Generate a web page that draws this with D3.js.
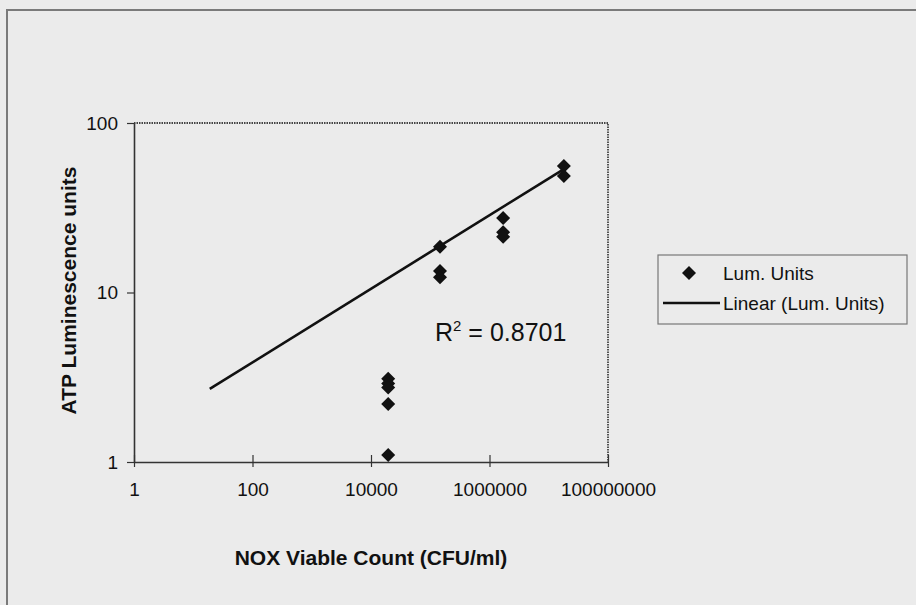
<!DOCTYPE html>
<html>
<head>
<meta charset="utf-8">
<script src="https://cdn.jsdelivr.net/npm/d3@7"></script>
<style>
  html, body { margin: 0; padding: 0; background: #ebebeb; }
  svg { display: block; }
  text { font-family: "Liberation Sans", Arial, Helvetica, sans-serif; fill: #111; }
</style>
</head>
<body>
<script>
// ---- data ----
const viableCount = [19500, 19500, 19500, 19500, 19500,
                     146000, 146000, 146000,
                     1700000, 1700000, 1700000,
                     18000000, 18000000];
const lumUnits    = [3.1, 2.9, 2.75, 2.2, 1.1,
                     18.6, 13.4, 12.3,
                     27.5, 22.7, 21.3,
                     55.7, 48.7];
const trendX = [19, 18000000];
const trendY = [2.7, 53.5];
const xTicks = [1, 100, 10000, 1000000, 100000000];
const yTicks = [1, 10, 100];
const rSquared = "0.8701";
const seriesName = "Lum. Units";
const trendName = "Linear (Lum. Units)";
const xTitle = "NOX Viable Count (CFU/ml)";
const yTitle = "ATP Luminescence units";

const W = 916, H = 605;
const plot = { left: 134, top: 123, right: 608, bottom: 462 };

const svg = d3.select("body").append("svg").attr("width", W).attr("height", H);
svg.append("rect").attr("width", W).attr("height", H).attr("fill", "#ebebeb");

// outer chart border
svg.append("rect").attr("x", 7).attr("y", 10).attr("width", 930).attr("height", 620)
  .attr("fill", "none").attr("stroke", "#7a7a7a").attr("stroke-width", 2);

const x = d3.scaleLog().domain([1, 1e8]).range([plot.left, plot.right]);
const y = d3.scaleLog().domain([1, 100]).range([plot.bottom, plot.top]);

// plot area border (top/right dotted)
svg.append("path")
  .attr("d", `M${plot.left},${plot.top}H${plot.right}V${plot.bottom}`)
  .attr("fill", "none").attr("stroke", "#444").attr("stroke-width", 1.8)
  .attr("stroke-dasharray", "1.5,1");

const tickFont = "19px";

// x axis
const gx = svg.append("g").attr("transform", `translate(0,${plot.bottom})`)
  .call(d3.axisBottom(x).tickValues(xTicks).tickFormat(d3.format("d")).tickSize(5).tickSizeOuter(0));
gx.select(".domain").attr("stroke", "#333").attr("stroke-width", 1.6);
gx.selectAll(".tick line").attr("y1", -7).attr("y2", 5).attr("stroke", "#333").attr("stroke-width", 1.2);
gx.selectAll(".tick text").attr("y", 21).style("font-size", tickFont)
  .style("font-family", "'Liberation Sans', Arial, sans-serif").attr("fill", "#111");

// y axis
const gy = svg.append("g").attr("transform", `translate(${plot.left},0)`)
  .call(d3.axisLeft(y).tickValues(yTicks).tickFormat(d3.format("d")).tickSize(7).tickSizeOuter(0));
gy.select(".domain").attr("stroke", "#333").attr("stroke-width", 1.6);
gy.selectAll(".tick line").attr("stroke", "#333").attr("stroke-width", 1.2);
gy.selectAll(".tick text").attr("x", -16).style("font-size", tickFont)
  .style("font-family", "'Liberation Sans', Arial, sans-serif").attr("fill", "#111");

// trend line
svg.append("path")
  .datum(trendX.map((v, i) => [v, trendY[i]]))
  .attr("d", d3.line().x(d => x(d[0])).y(d => y(d[1])))
  .attr("fill", "none").attr("stroke", "#111").attr("stroke-width", 2.6);

// square diamond marker
const squareDiamond = {
  draw(ctx, size) {
    const r = Math.sqrt(size / 2);
    ctx.moveTo(0, -r); ctx.lineTo(r, 0); ctx.lineTo(0, r); ctx.lineTo(-r, 0); ctx.closePath();
  }
};
const diamond = d3.symbol().type(squareDiamond).size(98);
svg.append("g").selectAll("path")
  .data(viableCount.map((v, i) => [v, lumUnits[i]]))
  .join("path")
  .attr("transform", d => `translate(${x(d[0])},${y(d[1])})`)
  .attr("d", diamond).attr("fill", "#111");

// R^2 label
const r2 = svg.append("text").attr("x", 435).attr("y", 341).style("font-size", "25px");
r2.append("tspan").text("R");
r2.append("tspan").attr("dy", -10).style("font-size", "15px").text("2");
r2.append("tspan").attr("dy", 10).text(" = " + rSquared);

// axis titles
svg.append("text").attr("x", (plot.left + plot.right) / 2).attr("y", 565)
  .attr("text-anchor", "middle").style("font-size", "21px").style("font-weight", "bold")
  .text(xTitle);
svg.append("text").attr("transform", `translate(76,${(plot.top + plot.bottom) / 2 - 2}) rotate(-90)`)
  .attr("text-anchor", "middle").style("font-size", "21px").style("font-weight", "bold")
  .text(yTitle);

// legend
const lg = svg.append("g");
lg.append("rect").attr("x", 658).attr("y", 255).attr("width", 249).attr("height", 69)
  .attr("fill", "#ebebeb").attr("stroke", "#777").attr("stroke-width", 1.2);
lg.append("path").attr("transform", "translate(689,273)").attr("d", diamond).attr("fill", "#111");
lg.append("text").attr("x", 723).attr("y", 280).style("font-size", "19px").text(seriesName);
lg.append("line").attr("x1", 663).attr("x2", 720).attr("y1", 303).attr("y2", 303)
  .attr("stroke", "#111").attr("stroke-width", 2.6);
lg.append("text").attr("x", 723).attr("y", 310).style("font-size", "19px").text(trendName);
</script>
</body>
</html>
